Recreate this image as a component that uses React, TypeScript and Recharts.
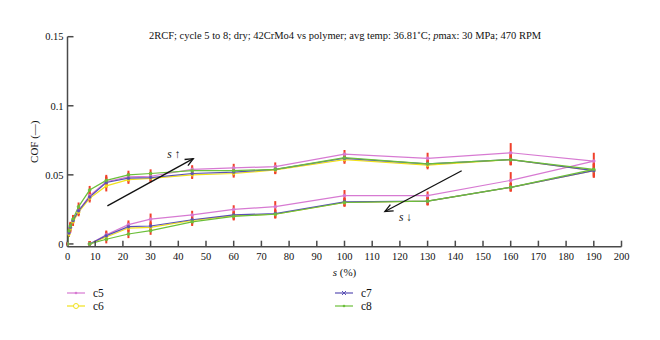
import React from 'react';
import { LineChart, Line, XAxis, YAxis, ErrorBar, ReferenceLine, ReferenceDot } from 'recharts';

// s values of the loading (s increasing) and unloading (s decreasing) branches
const sUp = [0, 0.5, 1, 2, 4, 8, 14, 22, 30, 45, 60, 75, 100, 130, 160, 190];
const sDown = [160, 130, 100, 75, 60, 45, 30, 22, 14, 8];

const c5Up = [0, 0.008, 0.012, 0.017, 0.024, 0.035, 0.045, 0.0485, 0.049, 0.054, 0.055, 0.056, 0.065, 0.062, 0.066, 0.06];
const c5Down = [0.046, 0.035, 0.035, 0.027, 0.025, 0.021, 0.018, 0.014, 0.0067, 0];
const c6Up = [0, 0.007, 0.011, 0.016, 0.023, 0.033, 0.042, 0.0465, 0.0475, 0.05, 0.051, 0.0535, 0.061, 0.057, 0.061, 0.053];
const c6Down = [0.041, 0.031, 0.03, 0.0215, 0.0205, 0.017, 0.012, 0.0115, 0.005, 0];
const c7Up = [0, 0.008, 0.012, 0.017, 0.024, 0.034, 0.0445, 0.0476, 0.048, 0.051, 0.052, 0.054, 0.062, 0.058, 0.061, 0.053];
const c7Down = [0.041, 0.031, 0.0305, 0.022, 0.021, 0.0175, 0.013, 0.0125, 0.006, 0];
const c8Up = [0, 0.0095, 0.013, 0.018, 0.027, 0.039, 0.046, 0.05, 0.051, 0.053, 0.053, 0.054, 0.0625, 0.058, 0.061, 0.054];
const c8Down = [0.041, 0.031, 0.03, 0.0215, 0.02, 0.016, 0.0096, 0.0072, 0.0034, 0];

// standard deviations (error bars)
const c5ErrUp = [0.001, 0.002, 0.003, 0.003, 0.003, 0.003, 0.004, 0.003, 0.003, 0.003, 0.003, 0.003, 0.003, 0.004, 0.007, 0.006];
const c5ErrDown = [0.006, 0.003, 0.004, 0.004, 0.003, 0.003, 0.004, 0.003, 0.003, 0.002];
const errUp = [0.001, 0.002, 0.003, 0.003, 0.003, 0.003, 0.004, 0.003, 0.003, 0.003, 0.003, 0.003, 0.003, 0.003, 0.004, 0.005];
const errDown = [0.003, 0.003, 0.003, 0.003, 0.003, 0.003, 0.003, 0.003, 0.003, 0.002];

const xTicks = [0, 10, 20, 30, 40, 50, 60, 70, 80, 90, 100, 110, 120, 130, 140, 150, 160, 170, 180, 190, 200];
const yTicks = [0, 0.05, 0.1, 0.15];

const arrowUp = [{ s: 14.4, v: 0.0275 }, { s: 45.4, v: 0.0617 }];
const arrowDown = [{ s: 142.3, v: 0.053 }, { s: 114.6, v: 0.0235 }];
const labelUp = { s: 38.4, v: 0.0653, arrow: '↑' };
const labelDown = { s: 122, v: 0.0197, arrow: '↓' };

const build = (up: number[], down: number[], eu: number[], ed: number[]) => [
  ...sUp.map((s, i) => ({ s, v: up[i], e: eu[i] })),
  ...sDown.map((s, i) => ({ s, v: down[i], e: ed[i] })),
];

const series = [
  { name: 'c5', color: '#d77ad2', data: build(c5Up, c5Down, c5ErrUp, c5ErrDown), marker: 'dot' },
  { name: 'c6', color: '#f0e11c', data: build(c6Up, c6Down, errUp, errDown), marker: 'circle' },
  { name: 'c7', color: '#5a50b4', data: build(c7Up, c7Down, errUp, errDown), marker: 'x' },
  { name: 'c8', color: '#6cbf3a', data: build(c8Up, c8Down, errUp, errDown), marker: 'dot' },
];

const FONT = '"Liberation Serif", "DejaVu Serif", serif';
const RED = '#f0402a';

const arrowShape = (p: any) => {
  const { x1, y1, x2, y2 } = p;
  const dx = x2 - x1, dy = y2 - y1;
  const len = Math.hypot(dx, dy) || 1;
  const ux = dx / len, uy = dy / len;
  const hl = 8, hw = 3.5;
  const bx = x2 - ux * hl, by = y2 - uy * hl;
  return (
    <g>
      <line x1={x1} y1={y1} x2={x2} y2={y2} stroke="#111" strokeWidth={1.3} />
      <polyline
        points={`${bx - uy * hw},${by + ux * hw} ${x2},${y2} ${bx + uy * hw},${by - ux * hw}`}
        fill="none"
        stroke="#111"
        strokeWidth={1.3}
      />
    </g>
  );
};

const sLabel = (arrow: string) => (props: any) => {
  const vb = props.viewBox || {};
  const cx = (vb.x || 0) + (vb.width || 0) / 2;
  const cy = (vb.y || 0) + (vb.height || 0) / 2;
  return (
    <text x={cx} y={cy + 4} textAnchor="middle" fontFamily={FONT} fontSize={11.5} fill="#111">
      <tspan fontStyle="italic">s</tspan>
      <tspan> {arrow}</tspan>
    </text>
  );
};

const LegendMarker = ({ color, marker }: { color: string; marker: string }) => (
  <svg width={18} height={8} style={{ display: 'block' }}>
    <line x1={0} y1={4} x2={18} y2={4} stroke={color} strokeWidth={1.2} />
    {marker === 'circle' && <circle cx={9} cy={4} r={2.5} fill="#fff" stroke={color} strokeWidth={1} />}
    {marker === 'dot' && <circle cx={9} cy={4} r={1.3} fill={color} />}
    {marker === 'x' && (
      <g stroke={color} strokeWidth={1}>
        <line x1={7} y1={2} x2={11} y2={6} />
        <line x1={7} y1={6} x2={11} y2={2} />
      </g>
    )}
  </svg>
);

export default function App() {
  const legendPos: Record<string, { left: number; top: number }> = {
    c5: { left: 67, top: 287 },
    c6: { left: 67, top: 300 },
    c7: { left: 335, top: 287 },
    c8: { left: 335, top: 300 },
  };
  return (
    <div style={{ position: 'absolute', left: 0, top: 0, width: 660, height: 340, background: '#fff', fontFamily: FONT }}>
      <LineChart width={660} height={340} margin={{ top: 36.7, right: 38.5, left: 27.5, bottom: 63.3 }}>
        <XAxis
          type="number"
          dataKey="s"
          domain={[0, 200]}
          ticks={xTicks}
          interval={0}
          height={30}
          stroke="#4a4a4a"
          strokeWidth={1.5}
          tickSize={-6}
          tickMargin={12}
          tick={{ fontFamily: FONT, fontSize: 10.5, fill: '#111' }}
          allowDataOverflow
          label={{
            content: (p: any) => {
              const vb = p.viewBox;
              return (
                <text x={vb.x + vb.width / 2} y={vb.y + 29} textAnchor="middle" fontFamily={FONT} fontSize={11} fill="#111">
                  <tspan fontStyle="italic">s</tspan>
                  <tspan> (%)</tspan>
                </text>
              );
            },
          }}
        />
        <YAxis
          type="number"
          domain={[0, 0.15]}
          ticks={yTicks}
          width={40}
          stroke="#4a4a4a"
          strokeWidth={1.5}
          tickSize={-6}
          tickMargin={10}
          tick={{ fontFamily: FONT, fontSize: 10.5, fill: '#111' }}
          tickFormatter={(v: number) => (v === 0 ? '0' : String(v))}
          label={{
            content: (p: any) => {
              const vb = p.viewBox;
              const x = vb.x + 7;
              const y = vb.y + vb.height / 2;
              return (
                <text
                  x={x}
                  y={y}
                  transform={`rotate(-90, ${x}, ${y})`}
                  textAnchor="middle"
                  dominantBaseline="central"
                  fontFamily={FONT}
                  fontSize={11}
                  fill="#111"
                >
                  COF (—)
                </text>
              );
            },
          }}
        />
        {series.map((sr) => (
          <Line
            key={sr.name}
            data={sr.data}
            dataKey="v"
            name={sr.name}
            type="linear"
            stroke={sr.color}
            strokeWidth={1.2}
            dot={{ r: 1.5, fill: sr.color, stroke: sr.color, strokeWidth: 0.5 }}
            isAnimationActive={false}
          >
            <ErrorBar dataKey="e" direction="y" stroke={RED} strokeWidth={2} width={0} isAnimationActive={false} />
          </Line>
        ))}
        <ReferenceLine segment={[{ x: arrowUp[0].s, y: arrowUp[0].v }, { x: arrowUp[1].s, y: arrowUp[1].v }]} shape={arrowShape} ifOverflow="visible" />
        <ReferenceLine segment={[{ x: arrowDown[0].s, y: arrowDown[0].v }, { x: arrowDown[1].s, y: arrowDown[1].v }]} shape={arrowShape} ifOverflow="visible" />
        <ReferenceDot x={labelUp.s} y={labelUp.v} r={0} fill="none" stroke="none" label={{ content: sLabel(labelUp.arrow) }} />
        <ReferenceDot x={labelDown.s} y={labelDown.v} r={0} fill="none" stroke="none" label={{ content: sLabel(labelDown.arrow) }} />
      </LineChart>
      <div
        style={{
          position: 'absolute',
          left: 0,
          width: 690,
          top: 30,
          lineHeight: '12px',
          textAlign: 'center',
          fontSize: 10.5,
          color: '#111',
          whiteSpace: 'nowrap',
        }}
      >
        2RCF; cycle 5 to 8; dry; 42CrMo4 vs polymer; avg temp: 36.81<sup style={{ fontSize: 7, lineHeight: 0 }}>∘</sup>C; <i>p</i>max: 30 MPa; 470 RPM
      </div>
      {series.map((sr) => (
        <div
          key={sr.name}
          style={{
            position: 'absolute',
            left: legendPos[sr.name].left,
            top: legendPos[sr.name].top,
            display: 'flex',
            alignItems: 'center',
            fontSize: 11.5,
            lineHeight: '12px',
            color: '#111',
          }}
        >
          <LegendMarker color={sr.color} marker={sr.marker} />
          <span style={{ marginLeft: 8 }}>{sr.name}</span>
        </div>
      ))}
    </div>
  );
}
